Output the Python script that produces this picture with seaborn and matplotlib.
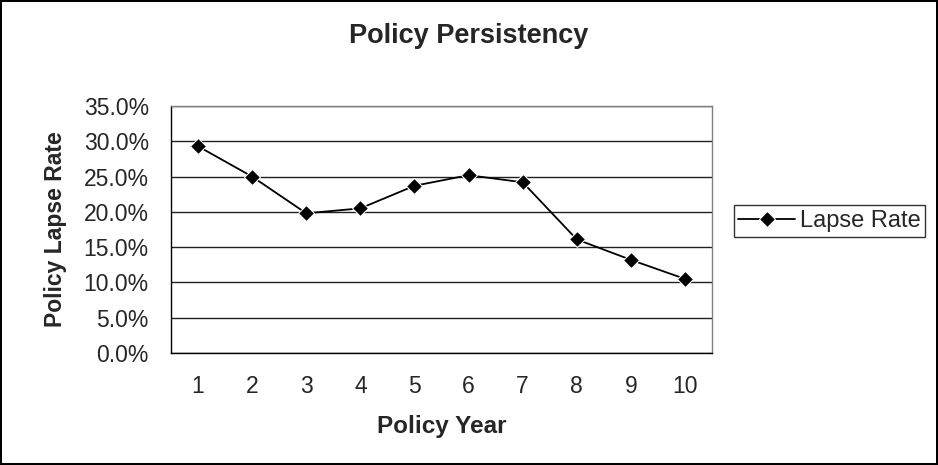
import pandas as pd
import matplotlib
matplotlib.use("Agg")
import matplotlib.pyplot as plt
import seaborn as sns

# Chart data
policy_years = [1, 2, 3, 4, 5, 6, 7, 8, 9, 10]
lapse_rate = [29.3, 25.0, 19.8, 20.5, 23.7, 25.2, 24.2, 16.1, 13.2, 10.5]
y_ticks = [0, 5, 10, 15, 20, 25, 30, 35]

df = pd.DataFrame({"Policy Year": policy_years, "Lapse Rate": lapse_rate})

sns.set_style("white")
plt.rcParams["font.family"] = ["Liberation Sans", "DejaVu Sans"]

fig = plt.figure(figsize=(9.38, 4.65), dpi=100)
fig.patch.set_edgecolor("black")
fig.patch.set_linewidth(1.5)
ax = fig.add_axes([0.1823, 0.2409, 0.5768, 0.531])

sns.lineplot(data=df, x="Policy Year", y="Lapse Rate", marker="D", markersize=8,
             color="black", linewidth=1.3, label="Lapse Rate", ax=ax)

# Excel-style axes
ax.set_xlim(0.5, 10.5)
ax.set_ylim(0, 35)
ax.set_yticks(y_ticks)
ax.set_yticklabels([f"{v:.1f}%" for v in y_ticks], fontsize=16.5)
ax.set_xticks(policy_years)
ax.set_xticklabels([str(v) for v in policy_years], fontsize=16.5)
ax.set_xticks([v + 0.5 for v in range(0, 11)], minor=True)
ax.tick_params(axis="x", which="major", length=0, pad=16)
ax.tick_params(axis="x", which="minor", length=4.5, direction="out", width=1, color="black")
ax.tick_params(axis="y", which="major", length=6, direction="out", width=1, color="black", pad=10)
ax.yaxis.grid(True, color="#202020", linewidth=1)
ax.set_axisbelow(True)

for side in ["top", "right"]:
    ax.spines[side].set_color("#808080")
    ax.spines[side].set_linewidth(1)
for side in ["left", "bottom"]:
    ax.spines[side].set_color("black")
    ax.spines[side].set_linewidth(1)

ax.set_xlabel("Policy Year", fontsize=17.5, fontweight="bold", labelpad=12)
ax.set_ylabel("Policy Lapse Rate", fontsize=16.5, fontweight="bold", labelpad=12)
fig.suptitle("Policy Persistency", fontsize=19.5, fontweight="bold", y=0.95)

leg = ax.legend(loc="center left", bbox_to_anchor=(1.04, 0.535), fontsize=17,
                frameon=True, fancybox=False, edgecolor="black", handlelength=2.4,
                borderpad=0.2, handletextpad=0.2, borderaxespad=0)
leg.get_frame().set_linewidth(1)

fig.savefig("out.png", dpi=100)
